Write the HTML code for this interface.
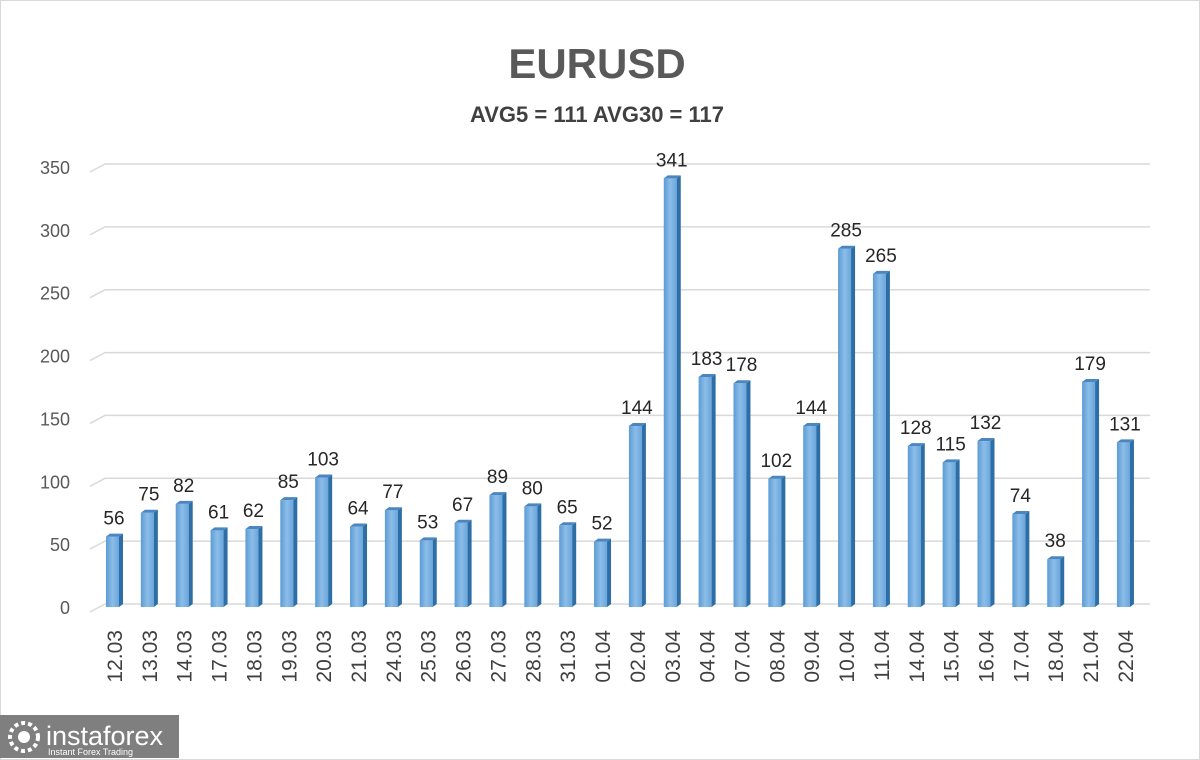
<!DOCTYPE html>
<html><head><meta charset="utf-8"><style>
body{margin:0;background:#fff;}
svg{display:block;font-family:"Liberation Sans",sans-serif;}
</style></head><body>
<svg width="1200" height="760" viewBox="0 0 1200 760">
<defs>
<linearGradient id="bf" x1="0" x2="1" y1="0" y2="0">
<stop offset="0" stop-color="#5b9bd5"/><stop offset="0.5" stop-color="#8cbde8"/><stop offset="1" stop-color="#6aa6dc"/>
</linearGradient>
</defs>
<rect x="0.5" y="0.5" width="1199" height="759" fill="#fff" stroke="#d9d9d9"/>
<text x="597" y="78" text-anchor="middle" font-size="42" font-weight="bold" fill="#595959">EURUSD</text>
<text x="597" y="122" text-anchor="middle" font-size="22" font-weight="bold" fill="#404040">AVG5 = 111 AVG30 = 117</text>
<g id="grid"></g>
<g id="bars"></g>
<rect x="0" y="715" width="179" height="43" fill="#7f7f7f"/>
<text x="46" y="745" font-size="27" fill="#fff">instaforex</text>
<text x="48" y="755" font-size="9" fill="#fff">Instant Forex Trading</text>
<circle cx="24" cy="737" r="14" fill="none" stroke="#fff" stroke-width="4" stroke-dasharray="4 3"/>
<circle cx="24" cy="737" r="6" fill="#fff"/>
</svg>
<script>
var ns="http://www.w3.org/2000/svg";
function el(t,a,p,txt){var e=document.createElementNS(ns,t);for(var k in a)e.setAttribute(k,a[k]);if(txt!=null)e.textContent=txt;(typeof p=="string"?document.getElementById(p):p).appendChild(e);return e;}
var svg=document.querySelector('svg');
var y0=607,sc=440/350;
for(var v=0;v<=350;v+=50){var y=y0-v*sc;
el('path',{d:'M90 '+(y+5)+' L105 '+(y-3)+' L1150 '+(y-3),stroke:'#d9d9d9','stroke-width':1.5,fill:'none'},'grid');
el('text',{x:70,y:y+7,'text-anchor':'end','font-size':18,fill:'#595959'},svg,String(v));}
var d=[["12.03",56],["13.03",75],["14.03",82],["17.03",61],["18.03",62],["19.03",85],["20.03",103],["21.03",64],["24.03",77],["25.03",53],["26.03",67],["27.03",89],["28.03",80],["31.03",65],["01.04",52],["02.04",144],["03.04",341],["04.04",183],["07.04",178],["08.04",102],["09.04",144],["10.04",285],["11.04",265],["14.04",128],["15.04",115],["16.04",132],["17.04",74],["18.04",38],["21.04",179],["22.04",131]];
d.forEach(function(r,i){var x=106+i*34.86,h=r[1]*sc,top=y0-h;
el('rect',{x:x,y:top,width:13,height:h,fill:'url(#bf)'},'bars');
el('path',{d:'M'+(x+13)+' '+top+' l4 -3 v'+h+' l-4 3z',fill:'#2e6ea6'},'bars');
el('path',{d:'M'+x+' '+top+' l4 -3 h13 l-4 3z',fill:'#4a86c0'},'bars');
el('text',{x:x+8,y:top-12,'text-anchor':'middle','font-size':19,fill:'#262626'},svg,String(r[1]));
el('text',{transform:'translate('+(x+16)+',630) rotate(-90)','text-anchor':'end','font-size':21,fill:'#404040'},svg,r[0]);});
</script>
</body></html>
